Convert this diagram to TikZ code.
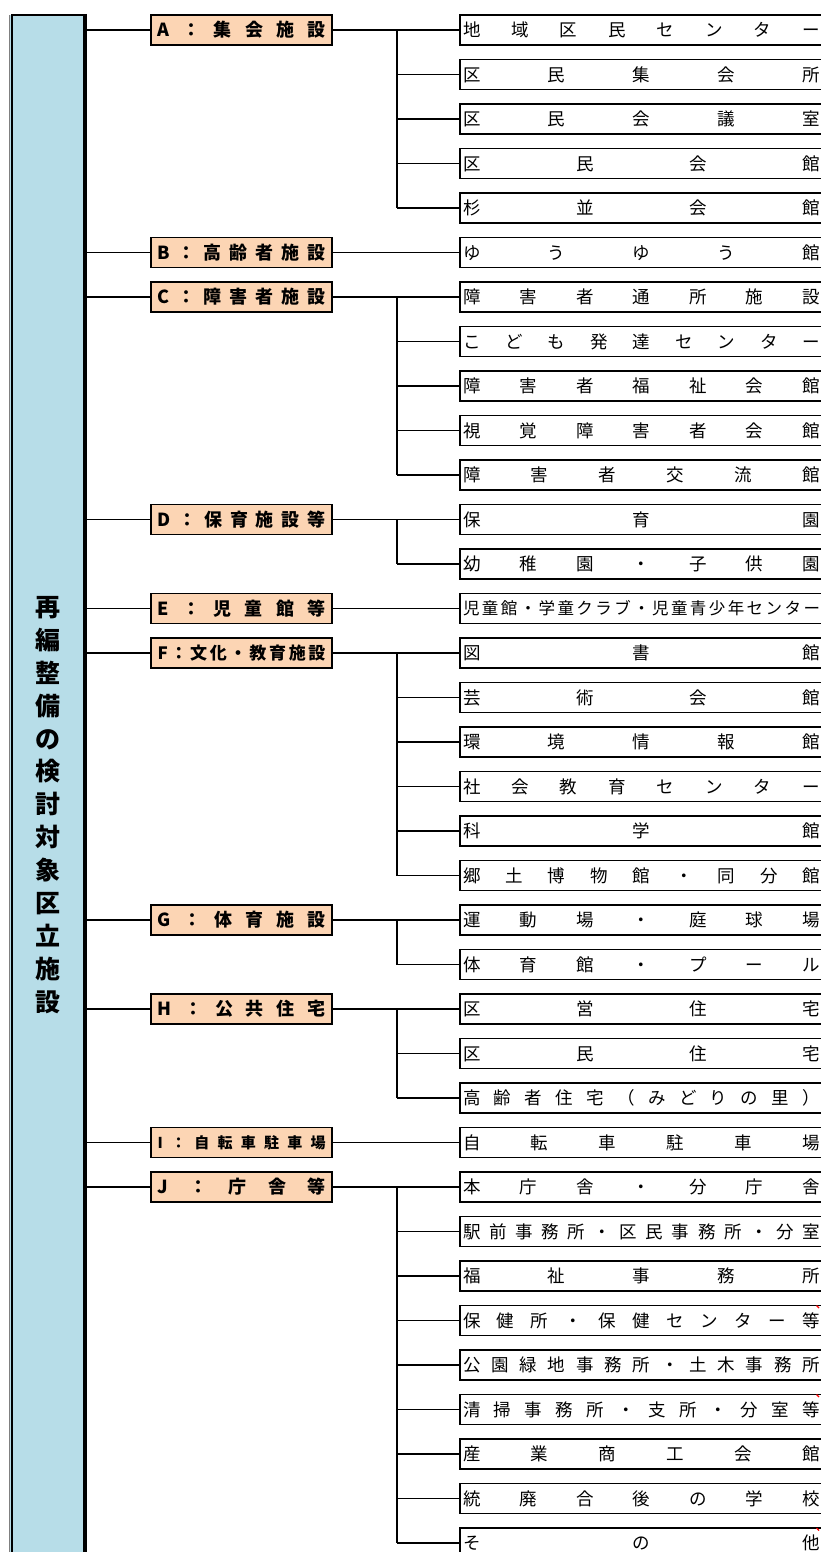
\documentclass[tikz,border=0pt]{standalone}
\usepackage{fontspec}
\setmainfont{Noto Sans CJK JP}
\definecolor{mainblue}{HTML}{B7DDE8}
\definecolor{catfill}{HTML}{FCD5B4}
\makeatletter
\newcommand\spr[2]{\hbox to #1{\expandafter\spr@a#2\@nil}}
\def\spr@a#1#2\@nil{#1\ifx\relax#2\relax\else\hfill\spr@a#2\@nil\fi}
\makeatother
\tikzset{
  item/.style={draw, line width=1.8pt, anchor=west, minimum height=30pt, text width=357pt,
    inner xsep=3pt, inner ysep=0pt, outer sep=0pt, font=\fontsize{17.5}{19}\selectfont},
  cat/.style={draw, line width=1.8pt, fill=catfill, anchor=west, minimum height=30pt, text width=168pt,
    inner xsep=6.5pt, inner ysep=0pt, outer sep=0pt, font=\bfseries\fontsize{18}{19}\selectfont},
  conn/.style={line width=1.5pt}
}
\begin{document}
\begin{tikzpicture}[x=1pt,y=-1pt]
\useasboundingbox (0,0) rectangle (820,1552);
% main box
\node[fill=mainblue, anchor=north west, minimum width=76pt, minimum height=1600pt, inner sep=0pt, outer sep=0pt] (main) at (10,15) {};
\draw[gray, line width=1pt] (9.8,1600) -- (9.8,15);
\draw[line width=2pt] (11.7,1600) -- (11.7,15) -- (86,15);
\draw[line width=3.5pt] (85,14) -- (85,1600);
\node[font=\bfseries\fontsize{25}{32.9}\selectfont, align=center, inner sep=0pt] (title) at (48,805)
  {再\\編\\整\\備\\の\\検\\討\\対\\象\\区\\立\\施\\設};
% right items
\foreach \i/\t in {
 0/地域区民センター,
 1/区民集会所,
 2/区民会議室,
 3/区民会館,
 4/杉並会館,
 5/ゆうゆう館,
 6/障害者通所施設,
 7/こども発達センター,
 8/障害者福祉会館,
 9/視覚障害者会館,
 10/障害者交流館,
 11/保育園,
 12/幼稚園・子供園,
 14/図書館,
 15/芸術会館,
 16/環境情報館,
 17/社会教育センター,
 18/科学館,
 19/郷土博物館・同分館,
 20/運動場・庭球場,
 21/体育館・プール,
 22/区営住宅,
 23/区民住宅,
 24/高齢者住宅（みどりの里）,
 25/自転車駐車場,
 26/本庁舎・分庁舎,
 27/駅前事務所・区民事務所・分室,
 28/福祉事務所,
 29/保健所・保健センター等,
 30/公園緑地事務所・土木事務所,
 31/清掃事務所・支所・分室等,
 32/産業商工会館,
 33/統廃合後の学校,
 34/その他}
{
  \pgfmathsetmacro\yy{30+44.5*\i}
  \node[item] (r\i) at (460,\yy) {\spr{357pt}{\t}};
}
\node[item, font=\fontsize{16.5}{19}\selectfont] (r13) at (460,{30+44.5*13})
  {\spr{357pt}{児童館・学童クラブ・児童青少年センター}};
% categories
\foreach \c/\i/\t in {
 A/0/A：集会施設,
 B/5/B：高齢者施設,
 C/6/C：障害者施設,
 D/11/D：保育施設等,
 E/13/E：児童館等,
 G/20/G：体育施設,
 H/22/H：公共住宅,
 J/26/J：庁舎等}
{
  \pgfmathsetmacro\yy{30+44.5*\i}
  \node[cat] (c\c) at (151,\yy) {\spr{168pt}{\t}};
}
\node[cat, font=\bfseries\fontsize{17}{19}\selectfont] (cF) at (151,{30+44.5*14}) {\spr{168pt}{F：文化・教育施設}};
\node[cat, font=\bfseries\fontsize{15}{19}\selectfont] (cI) at (151,{30+44.5*25}) {\spr{168pt}{I：自転車駐車場}};
% connectors
\coordinate (bus) at (397,0);
\foreach \c/\a in {A/0,B/5,C/6,D/11,E/13,F/14,G/20,H/22,I/25,J/26}
{
  \draw[conn] (main.east |- c\c.west) -- (c\c.west);
  \draw[conn] (c\c.east) -- (r\a.west);
}
\foreach \a/\b in {0/4,6/10,11/12,14/19,20/21,22/24,26/34}
{
  \draw[conn] (r\a.west -| bus) -- (r\b.west -| bus);
  \foreach \k in {\a,...,\b}
    \draw[conn] (r\k.west -| bus) -- (r\k.west);
}
% small red marks
\foreach \i in {29,31,34}
{
  \pgfmathsetmacro\yt{15+44.5*\i}
  \draw[red, line width=1.2pt] (816.5,\yt) -- (819,{\yt+2.5});
}
\end{tikzpicture}
\end{document}
